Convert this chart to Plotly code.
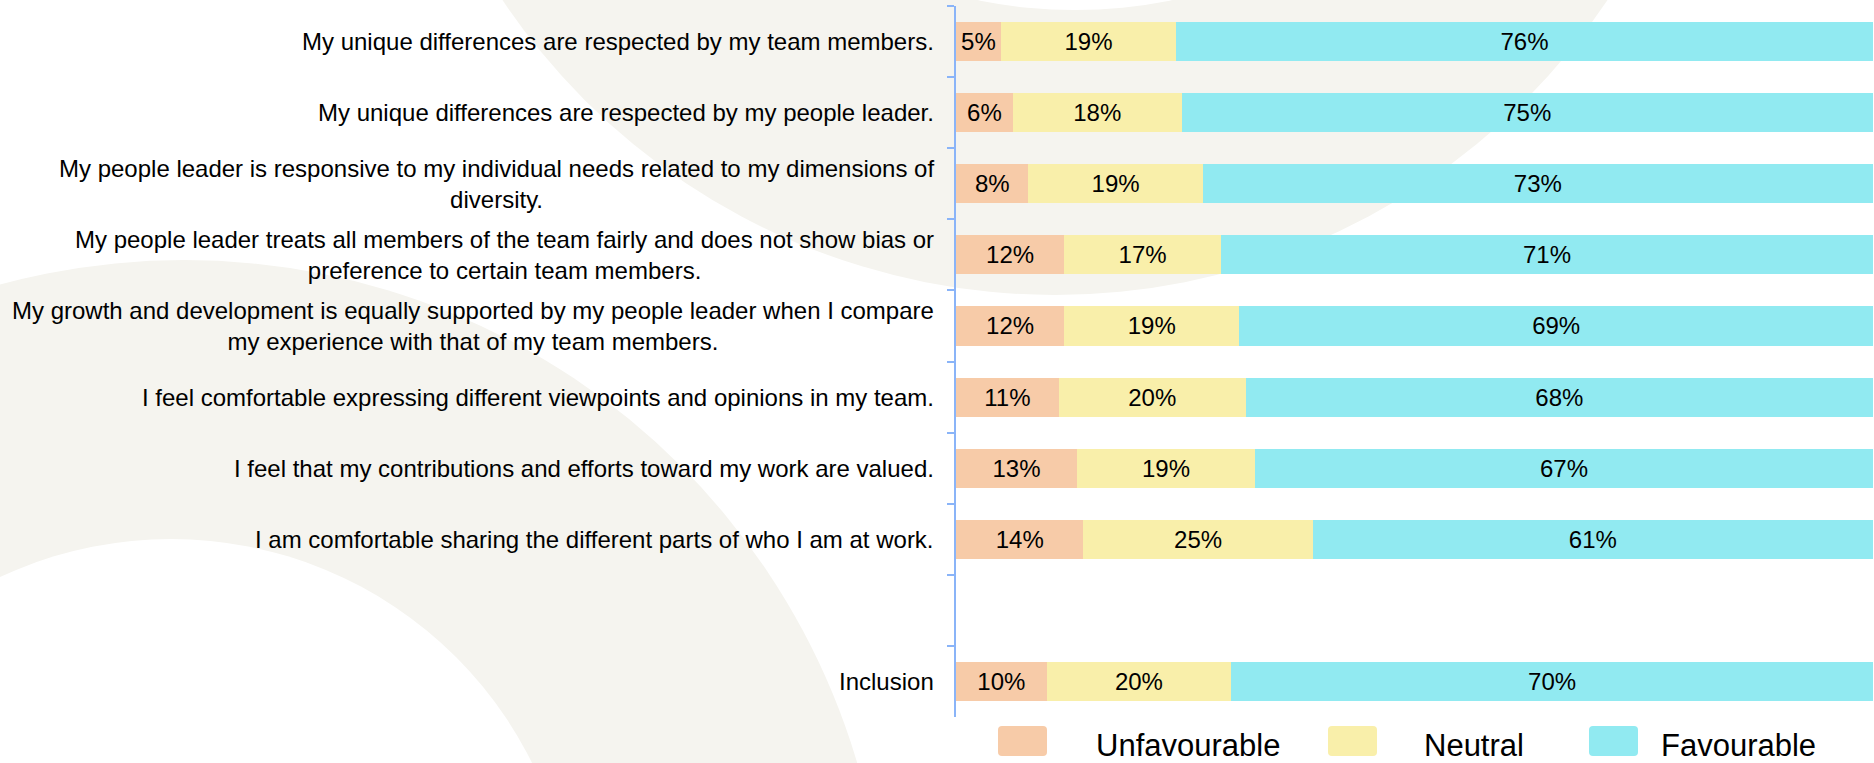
import plotly.graph_objects as go

# ---------------- data ----------------
categories = [
    "My unique differences are respected by my team members.",
    "My unique differences are respected by my people leader.",
    "My people leader is responsive to my individual needs related to my dimensions of<br>diversity.",
    "My people leader treats all members of the team fairly and does not show bias or<br>preference to certain team members.",
    "My growth and development is equally supported by my people leader when I compare<br>my experience with that of my team members.",
    "I feel comfortable expressing different viewpoints and opinions in my team.",
    "I feel that my contributions and efforts toward my work are valued.",
    "I am comfortable sharing the different parts of who I am at work.",
    " ",
    "Inclusion",
]
series_names = ["Unfavourable", "Neutral", "Favourable"]
unfavourable = [4.9, 6.2, 7.9, 11.8, 11.8, 11.2, 13.2, 13.9, None, 9.9]
neutral = [19.1, 18.4, 19.0, 17.1, 19.1, 20.4, 19.4, 25.0, None, 20.1]
favourable = [76.0, 75.4, 73.1, 71.1, 69.1, 68.4, 67.4, 61.1, None, 70.0]

# ---------------- style ----------------
colors = ["#F7CBA8", "#F9EFAA", "#91EAF1"]
BEIGE = "#F5F4EF"
AXIS_BLUE = "#8AB4F8"
FONT = "Liberation Sans, Arial, sans-serif"

W_PX, H_PX = 1874, 763
M_L, M_R, M_T, M_B = 956, 1, 6, 46
PW = W_PX - M_L - M_R
PH = H_PX - M_T - M_B


def px_x(px):
    return (px - M_L) / PW


def px_y(py):
    return (H_PX - M_B - py) / PH


fig = go.Figure()
for name, vals, col in zip(series_names, [unfavourable, neutral, favourable], colors):
    fig.add_trace(go.Bar(
        y=categories, x=vals, name=name, orientation="h",
        marker=dict(color=col, line=dict(width=0)),
        texttemplate="%{x:.0f}%", textposition="inside",
        insidetextanchor="middle", textangle=0,
        textfont=dict(family=FONT, size=24, color="#000000"),
        showlegend=False, hoverinfo="skip",
    ))

shapes = []


def circle(cx, cy, r, color):
    return dict(type="circle", xref="paper", yref="paper",
                x0=px_x(cx - r), x1=px_x(cx + r), y0=px_y(cy + r), y1=px_y(cy - r),
                fillcolor=color, line=dict(width=0), layer="below")


# decorative background arcs
shapes.append(circle(1055, -370, 665, BEIGE))
shapes.append(circle(1075, -475, 485, "white"))
shapes.append(circle(184, 962, 702, BEIGE))
shapes.append(circle(171, 942, 403, "white"))


def rrect(x0, y0, x1, y1, r, color):
    X, Y = px_x, px_y
    path = (f"M {X(x0 + r)},{Y(y0)} L {X(x1 - r)},{Y(y0)} Q {X(x1)},{Y(y0)} {X(x1)},{Y(y0 + r)} "
            f"L {X(x1)},{Y(y1 - r)} Q {X(x1)},{Y(y1)} {X(x1 - r)},{Y(y1)} "
            f"L {X(x0 + r)},{Y(y1)} Q {X(x0)},{Y(y1)} {X(x0)},{Y(y1 - r)} "
            f"L {X(x0)},{Y(y0 + r)} Q {X(x0)},{Y(y0)} {X(x0 + r)},{Y(y0)} Z")
    return dict(type="path", xref="paper", yref="paper", path=path,
                fillcolor=color, line=dict(width=0), layer="above")


annotations = []
# legend (custom, large)
legend_marker_x = [998, 1328, 1589]
legend_text_x = [1094, 1422, 1659]
for name, col, mx, tx in zip(series_names, colors, legend_marker_x, legend_text_x):
    shapes.append(rrect(mx, 726, mx + 49, 756, 4, col))
    annotations.append(dict(
        x=px_x(tx), y=px_y(745), xref="paper", yref="paper",
        xanchor="left", yanchor="middle", text=name, showarrow=False,
        font=dict(family=FONT, size=31, color="#000000"),
    ))

# category labels (centered multi-line, right anchored)
for cat in categories:
    if not cat.strip():
        continue
    annotations.append(dict(
        x=0, y=cat, xref="paper", yref="y", xanchor="right", yanchor="middle",
        xshift=-20, align="center", text=cat, showarrow=False,
        font=dict(family=FONT, size=24, color="#000000"),
    ))

fig.update_layout(
    barmode="stack", bargap=0.45,
    width=W_PX, height=H_PX, autosize=False,
    margin=dict(l=M_L, r=M_R, t=M_T, b=M_B, pad=0),
    paper_bgcolor="white", plot_bgcolor="rgba(0,0,0,0)",
    font=dict(family=FONT, size=24, color="#000000"),
    shapes=shapes, annotations=annotations, showlegend=False,
    xaxis=dict(visible=False, range=[0, 100], fixedrange=True),
    yaxis=dict(
        type="category", categoryorder="array", categoryarray=categories,
        range=[len(categories) - 0.5, -0.5],
        showline=True, linecolor=AXIS_BLUE, linewidth=2,
        ticks="outside", tickson="boundaries", ticklen=7, tickwidth=2, tickcolor=AXIS_BLUE,
        showticklabels=False, showgrid=False, zeroline=False, fixedrange=True,
    ),
)

fig.write_html(
    "out.html",
    config={"displayModeBar": False},
    post_script="document.body.style.margin='0';document.body.style.overflow='hidden';",
)
